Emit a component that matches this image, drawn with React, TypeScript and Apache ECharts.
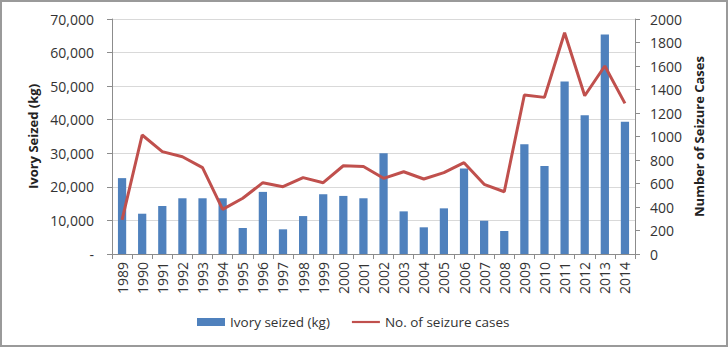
import React, { useEffect, useRef } from "react";
import * as echarts from "echarts";

const years = ["1989","1990","1991","1992","1993","1994","1995","1996","1997","1998","1999","2000","2001","2002","2003","2004","2005","2006","2007","2008","2009","2010","2011","2012","2013","2014"];
const ivorySeized = [22600,12000,14300,16600,16600,16600,7750,18500,7350,11300,17800,17300,16600,30000,12700,7950,13600,25500,9900,6850,32700,26200,51400,41300,65400,39400];
const seizureCases = [290,1013,871,828,735,380,474,607,573,650,607,751,745,644,700,638,692,777,593,530,1353,1333,1883,1347,1600,1282];

const FONT = "'Open Sans', 'Noto Sans', sans-serif";

export default function App() {
  const ref = useRef<HTMLDivElement>(null);
  useEffect(() => {
    document.body.style.margin = "0";
    const chart = echarts.init(ref.current!, null, { renderer: "svg" });
    chart.setOption({
      animation: false,
      textStyle: { fontFamily: FONT },
      grid: { left: 112, right: 93, top: 19, bottom: 93, containLabel: false },
      legend: {
        left: 192,
        top: 310,
        itemGap: 22,
        itemWidth: 28,
        itemHeight: 8,
        textStyle: { fontSize: 13.5, color: "#333", fontFamily: FONT },
        data: [
          { name: "Ivory seized (kg)", icon: "rect" },
          { name: "No. of seizure cases", icon: "path://M0,0 H32 V2.5 H0 Z" },
        ],
      },
      xAxis: {
        type: "category",
        data: years,
        boundaryGap: true,
        axisLine: { lineStyle: { color: "#8c8c8c" } },
        axisTick: { show: true, alignWithLabel: false, length: 5, lineStyle: { color: "#8c8c8c" } },
        axisLabel: { rotate: 90, fontSize: 14, color: "#333", margin: 8, interval: 0, fontFamily: FONT },
      },
      yAxis: [
        {
          type: "value",
          min: 0,
          max: 70000,
          interval: 10000,
          name: "Ivory Seized (kg)",
          nameLocation: "middle",
          nameRotate: 90,
          nameGap: 72,
          nameTextStyle: { fontSize: 13, fontWeight: "bold", color: "#222", fontFamily: FONT },
          axisLine: { show: true, lineStyle: { color: "#8c8c8c" } },
          axisTick: { show: true, length: 5, lineStyle: { color: "#8c8c8c" } },
          axisLabel: {
            fontSize: 14,
            color: "#333",
            margin: 18,
            fontFamily: FONT,
            formatter: (v: number) => (v === 0 ? "-" : v.toLocaleString("en-US")),
          },
          splitLine: { show: true, lineStyle: { color: "#d9d9d9" } },
        },
        {
          type: "value",
          min: 0,
          max: 2000,
          interval: 200,
          name: "Number of Seizure Cases",
          nameLocation: "middle",
          nameRotate: 90,
          nameGap: 50,
          nameTextStyle: { fontSize: 13, fontWeight: "bold", color: "#222", fontFamily: FONT },
          axisLine: { show: true, lineStyle: { color: "#8c8c8c" } },
          axisTick: { show: true, length: 5, lineStyle: { color: "#8c8c8c" } },
          axisLabel: {
            fontSize: 14,
            color: "#333",
            margin: 15,
            fontFamily: FONT,
            formatter: (v: number) => String(v),
          },
          splitLine: { show: false },
        },
      ],
      series: [
        {
          name: "Ivory seized (kg)",
          type: "bar",
          yAxisIndex: 0,
          data: ivorySeized,
          barWidth: "41%",
          itemStyle: { color: "#4f81bd" },
        },
        {
          name: "No. of seizure cases",
          type: "line",
          yAxisIndex: 1,
          data: seizureCases,
          symbol: "none",
          lineStyle: { color: "#c0504d", width: 3 },
          itemStyle: { color: "#c0504d" },
        },
      ],
    });
    return () => chart.dispose();
  }, []);
  return (
    <div
      style={{
        position: "absolute",
        left: 0,
        top: 0,
        width: 728,
        height: 347,
        boxSizing: "border-box",
        border: "2px solid #9a9a9a",
        background: "#fff",
      }}
    >
      <div ref={ref} style={{ position: "absolute", left: -2, top: -2, width: 728, height: 347 }} />
    </div>
  );
}
